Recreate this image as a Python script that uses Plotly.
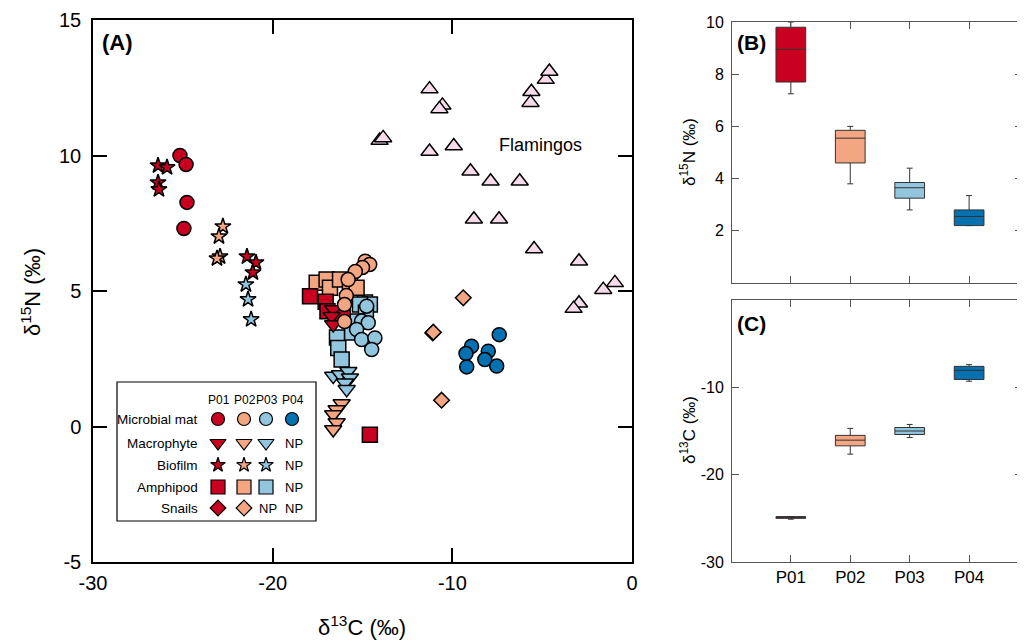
import plotly.graph_objects as go

# ------------------------------------------------------------------ data
sites = ["P01", "P02", "P03", "P04"]
site_colors = ["#CA0020", "#F4A582", "#92C5DE", "#0571B0"]
flamingo_color = "#F7DBEA"

# tick values / labels
a_xticks = [-30, -20, -10, 0]
a_xlabels = ["-30", "-20", "-10", "0"]
a_yticks = [-5, 0, 5, 10, 15]
a_ylabels = ["-5", "0", "5", "10", "15"]
b_yticks = [2, 4, 6, 8, 10]
b_ylabels = ["2", "4", "6", "8", "10"]
c_yticks = [-30, -20, -10]
c_ylabels = ["-30", "-20", "-10"]

# Microbial mat (circles)
mat_p01_x = [-25.16, -24.82, -24.77, -24.94]
mat_p01_y = [10.0, 9.67, 8.27, 7.31]
mat_p02_x = [-14.85, -14.6, -15.0, -15.4, -15.8, -15.9, -16.0, -16.0]
mat_p02_y = [6.1, 5.98, 5.87, 5.72, 5.42, 4.83, 4.5, 3.87]
mat_p03_x = [-14.77, -15.05, -14.68, -15.33, -15.05, -14.31, -14.49]
mat_p03_y = [4.44, 3.89, 3.83, 3.58, 3.21, 3.27, 2.84]
mat_p04_x = [-7.39, -8.93, -9.24, -9.2, -8.0, -8.19, -7.53]
mat_p04_y = [3.39, 2.96, 2.69, 2.2, 2.78, 2.47, 2.23]

# Macrophyte (down triangles)
mac_p01_x = [-16.63, -16.72, -16.63]
mac_p01_y = [4.32, 4.07, 3.76]
mac_p02_x = [-16.16, -16.44, -16.63, -16.44, -16.63]
mac_p02_y = [0.85, 0.63, 0.44, 0.15, -0.11]
mac_p03_x = [-16.63, -16.25, -15.79, -15.7, -15.98, -15.88]
mac_p03_y = [1.86, 1.92, 2.04, 1.8, 1.61, 1.37]

# Biofilm (stars)
bio_p01_x = [-26.38, -25.88, -26.38, -26.33, -21.43, -20.93, -21.1]
bio_p01_y = [9.63, 9.56, 9.0, 8.75, 6.27, 6.05, 5.68]
bio_p02_x = [-22.77, -22.99, -22.93, -23.1]
bio_p02_y = [7.38, 7.01, 6.27, 6.2]
bio_p03_x = [-21.49, -21.37, -21.2]
bio_p03_y = [5.24, 4.69, 3.95]

# Amphipod (squares)
amp_p01_x = [-17.92, -17.05, -16.95, -16.1, -14.59]
amp_p01_y = [4.81, 4.6, 4.25, 4.15, -0.3]
amp_p02_x = [-17.55, -17.0, -16.81, -16.25, -15.7, -15.33]
amp_p02_y = [5.3, 5.42, 5.12, 5.42, 5.3, 5.12]
amp_p03_x = [-14.86, -14.59, -15.14, -14.81, -15.31, -15.59, -16.42, -16.35, -16.16]
amp_p03_y = [4.58, 4.5, 4.5, 4.2, 3.87, 3.47, 3.28, 2.9, 2.47]

# Snails (diamonds)
sna_p01_x = [-11.09]
sna_p01_y = [3.45]
sna_p02_x = [-9.39, -11.06, -10.6]
sna_p02_y = [4.75, 3.48, 0.97]

# Flamingos (up triangles)
fla_x = [-11.27, -10.55, -10.72, -14.05, -13.85, -11.27, -9.92, -8.99, -7.87, -6.25, -8.8,
         -7.4, -5.45, -2.95, -0.95, -1.6, -2.95, -3.25, -5.6, -5.65, -4.8, -4.6]
fla_y = [12.45, 11.85, 11.72, 10.55, 10.65, 10.15, 10.35, 9.42, 9.05, 9.05, 7.65,
         7.65, 6.55, 6.1, 5.3, 5.05, 4.55, 4.35, 12.35, 11.95, 12.8, 13.1]

# Box summaries: delta15N (panel B) and delta13C (panel C)
n_q1 = [7.7, 4.6, 3.25, 2.2]
n_med = [8.95, 5.55, 3.65, 2.55]
n_q3 = [9.8, 5.85, 3.85, 2.8]
n_lo = [7.25, 3.8, 2.8, 2.2]
n_hi = [10.0, 6.0, 4.4, 3.35]

c_q1 = [-25.0, -16.7, -15.4, -9.1]
c_med = [-24.9, -16.05, -15.0, -8.05]
c_q3 = [-24.8, -15.5, -14.6, -7.6]
c_lo = [-25.1, -17.65, -15.75, -9.3]
c_hi = [-24.8, -14.7, -14.25, -7.4]

legend_rows = ["Microbial mat", "Macrophyte", "Biofilm", "Amphipod", "Snails"]
legend_present = [[1, 1, 1, 1], [1, 1, 1, 0], [1, 1, 1, 0], [1, 1, 1, 0], [1, 1, 0, 0]]

# ------------------------------------------------------------------ layout helpers
# page body has an 8px margin, so the figure starts at (8, 8) of the window
OFF = 8
W, H = 1025 - OFF, 642 - OFF
FONT = "Arial, Liberation Sans, sans-serif"


def fx(p):
    return (p - OFF) / W


def fy(p):
    return 1 - (p - OFF) / H


fig = go.Figure()

edge = dict(color="black", width=1.5)


def add_pts(x, y, symbol, color, size):
    fig.add_trace(go.Scatter(
        x=x, y=y, mode="markers", xaxis="x", yaxis="y",
        marker=dict(symbol=symbol, color=color, size=size, line=edge),
        showlegend=False, hoverinfo="skip"))


# draw order
add_pts(fla_x, fla_y, "triangle-up", flamingo_color, 15)
add_pts(amp_p03_x, amp_p03_y, "square", site_colors[2], 15)
add_pts(amp_p02_x, amp_p02_y, "square", site_colors[1], 15)
add_pts(amp_p01_x, amp_p01_y, "square", site_colors[0], 15)
add_pts(mac_p03_x, mac_p03_y, "triangle-down", site_colors[2], 15)
add_pts(mac_p02_x, mac_p02_y, "triangle-down", site_colors[1], 15)
add_pts(mac_p01_x, mac_p01_y, "triangle-down", site_colors[0], 15)
add_pts(bio_p01_x, bio_p01_y, "star", site_colors[0], 12)
add_pts(bio_p02_x, bio_p02_y, "star", site_colors[1], 12)
add_pts(bio_p03_x, bio_p03_y, "star", site_colors[2], 12)
add_pts(mat_p03_x, mat_p03_y, "circle", site_colors[2], 14)
add_pts(mat_p02_x, mat_p02_y, "circle", site_colors[1], 14)
add_pts(mat_p01_x, mat_p01_y, "circle", site_colors[0], 14)
add_pts(mat_p04_x, mat_p04_y, "circle", site_colors[3], 14)
add_pts(sna_p01_x, sna_p01_y, "diamond", site_colors[0], 12)
add_pts(sna_p02_x, sna_p02_y, "diamond", site_colors[1], 12)

# boxplots
for i, s in enumerate(sites):
    fig.add_trace(go.Box(
        x=[s], q1=[n_q1[i]], median=[n_med[i]], q3=[n_q3[i]],
        lowerfence=[n_lo[i]], upperfence=[n_hi[i]],
        fillcolor=site_colors[i], line=dict(color="#333333", width=1),
        width=0.5, whiskerwidth=0.2, xaxis="x2", yaxis="y2",
        showlegend=False, hoverinfo="skip"))
    fig.add_trace(go.Box(
        x=[s], q1=[c_q1[i]], median=[c_med[i]], q3=[c_q3[i]],
        lowerfence=[c_lo[i]], upperfence=[c_hi[i]],
        fillcolor=site_colors[i], line=dict(color="#333333", width=1),
        width=0.5, whiskerwidth=0.2, xaxis="x3", yaxis="y3",
        showlegend=False, hoverinfo="skip"))

# ------------------------------------------------------------------ custom legend (pixel axis)
LEG_L, LEG_R, LEG_T, LEG_B = 117, 316, 382, 521
col_x = [218, 244, 266, 292]
row_y = [419, 443, 465, 487, 508]
head_y = 400
label_x = 200
row_symbols = ["circle", "triangle-down", "star", "square", "diamond"]
row_sizes = [13, 14, 11, 14, 12]

for r, name in enumerate(legend_rows):
    for c in range(4):
        if legend_present[r][c]:
            fig.add_trace(go.Scatter(
                x=[col_x[c]], y=[row_y[r]], mode="markers", xaxis="x4", yaxis="y4",
                marker=dict(symbol=row_symbols[r], color=site_colors[c],
                            size=row_sizes[r], line=dict(color="black", width=1.2)),
                showlegend=False, hoverinfo="skip"))

annotations = []
for c, s in enumerate(sites):
    annotations.append(dict(x=col_x[c] + 1, y=head_y, xref="x4", yref="y4", text=s,
                            xanchor="center", yanchor="middle",
                            showarrow=False, font=dict(size=12, color="black", family=FONT)))
for r, name in enumerate(legend_rows):
    annotations.append(dict(x=label_x, y=row_y[r], xref="x4", yref="y4", text=name,
                            xanchor="right", yanchor="middle", showarrow=False,
                            font=dict(size=13.5, color="black", family=FONT)))
    for c in range(4):
        if not legend_present[r][c]:
            annotations.append(dict(x=col_x[c] + 2, y=row_y[r], xref="x4", yref="y4", text="NP",
                                    xanchor="center", yanchor="middle",
                                    showarrow=False, font=dict(size=13, color="black", family=FONT)))

# panel labels and texts
annotations += [
    dict(x=fx(100), y=fy(42), xref="paper", yref="paper", text="<b>(A)</b>", xanchor="left",
         yanchor="middle", showarrow=False, font=dict(size=22, color="black", family=FONT)),
    dict(x=fx(735), y=fy(43), xref="paper", yref="paper", text="<b>(B)</b>", xanchor="left",
         yanchor="middle", showarrow=False, font=dict(size=21, color="black", family=FONT)),
    dict(x=fx(735), y=fy(323), xref="paper", yref="paper", text="<b>(C)</b>", xanchor="left",
         yanchor="middle", showarrow=False, font=dict(size=21, color="black", family=FONT)),
    dict(x=-5.1, y=10.4, xref="x", yref="y", text="Flamingos", showarrow=False,
         xanchor="center", yanchor="middle", font=dict(size=18, color="black", family=FONT)),
    dict(x=fx(31), y=fy(292), xref="paper", yref="paper", text="δ<sup>15</sup>N (‰)",
         xanchor="center", yanchor="middle",
         textangle=-90, showarrow=False, font=dict(size=22, color="black", family=FONT)),
    dict(x=fx(362), y=fy(626), xref="paper", yref="paper", text="δ<sup>13</sup>C (‰)",
         xanchor="center", yanchor="middle",
         showarrow=False, font=dict(size=22, color="black", family=FONT)),
    dict(x=fx(688), y=fy(152), xref="paper", yref="paper", text="δ<sup>15</sup>N (‰)",
         xanchor="center", yanchor="middle",
         textangle=-90, showarrow=False, font=dict(size=17, color="black", family=FONT)),
    dict(x=fx(688), y=fy(430), xref="paper", yref="paper", text="δ<sup>13</sup>C (‰)",
         xanchor="center", yanchor="middle",
         textangle=-90, showarrow=False, font=dict(size=17, color="black", family=FONT)),
]

shapes = [dict(type="rect", xref="paper", yref="paper", x0=fx(LEG_L), x1=fx(LEG_R),
               y0=fy(LEG_B), y1=fy(LEG_T), line=dict(color="black", width=1.2),
               fillcolor="white", layer="below")]

axA = dict(showline=True, linecolor="black", linewidth=1.5, mirror="ticks", ticks="inside",
           ticklen=14, tickwidth=1.5, tickcolor="black", showgrid=False, zeroline=False,
           automargin=False, tickmode="array",
           tickfont=dict(size=20, color="black", family=FONT))
axB = dict(showline=True, linecolor="#555555", linewidth=1, mirror="ticks", ticks="inside",
           ticklen=7, tickwidth=1, tickcolor="#555555", showgrid=False, zeroline=False,
           automargin=False,
           tickfont=dict(size=16, color="black", family=FONT))

cat_range = [-0.99, 3.89]

fig.update_layout(
    template="none",
    width=W, height=H, margin=dict(l=0, r=0, t=0, b=0, autoexpand=False),
    paper_bgcolor="white", plot_bgcolor="rgba(0,0,0,0)", showlegend=False,
    font=dict(family=FONT, color="black"),
    xaxis=dict(axA, domain=[fx(93), fx(632)], range=[-30, 0], tickvals=a_xticks,
               ticktext=a_xlabels, anchor="y", ticklabelstandoff=2),
    yaxis=dict(axA, domain=[fy(562), fy(20)], range=[-5, 15], tickvals=a_yticks,
               ticktext=a_ylabels, anchor="x", ticklabelstandoff=6),
    xaxis2=dict(axB, domain=[fx(732), fx(1022)], type="category", categoryorder="array",
                categoryarray=sites, range=cat_range, showticklabels=False, anchor="y2"),
    yaxis2=dict(axB, domain=[fy(283), fy(22)], range=[0, 10], tickmode="array",
                tickvals=b_yticks, ticktext=b_ylabels, anchor="x2", ticklabelstandoff=4),
    xaxis3=dict(axB, domain=[fx(732), fx(1022)], type="category", categoryorder="array",
                categoryarray=sites, range=cat_range, anchor="y3", ticklabelstandoff=0,
                tickfont=dict(size=17, color="black", family=FONT)),
    yaxis3=dict(axB, domain=[fy(562), fy(300)], range=[-30, 0], tickmode="array",
                tickvals=c_yticks, ticktext=c_ylabels, anchor="x3", ticklabelstandoff=4),
    xaxis4=dict(domain=[fx(LEG_L), fx(LEG_R)], range=[LEG_L, LEG_R], visible=False,
                anchor="y4", fixedrange=True, automargin=False),
    yaxis4=dict(domain=[fy(LEG_B), fy(LEG_T)], range=[LEG_B, LEG_T], visible=False,
                anchor="x4", fixedrange=True, automargin=False),
    annotations=annotations,
    shapes=shapes,
)

fig.write_html("out.html")
